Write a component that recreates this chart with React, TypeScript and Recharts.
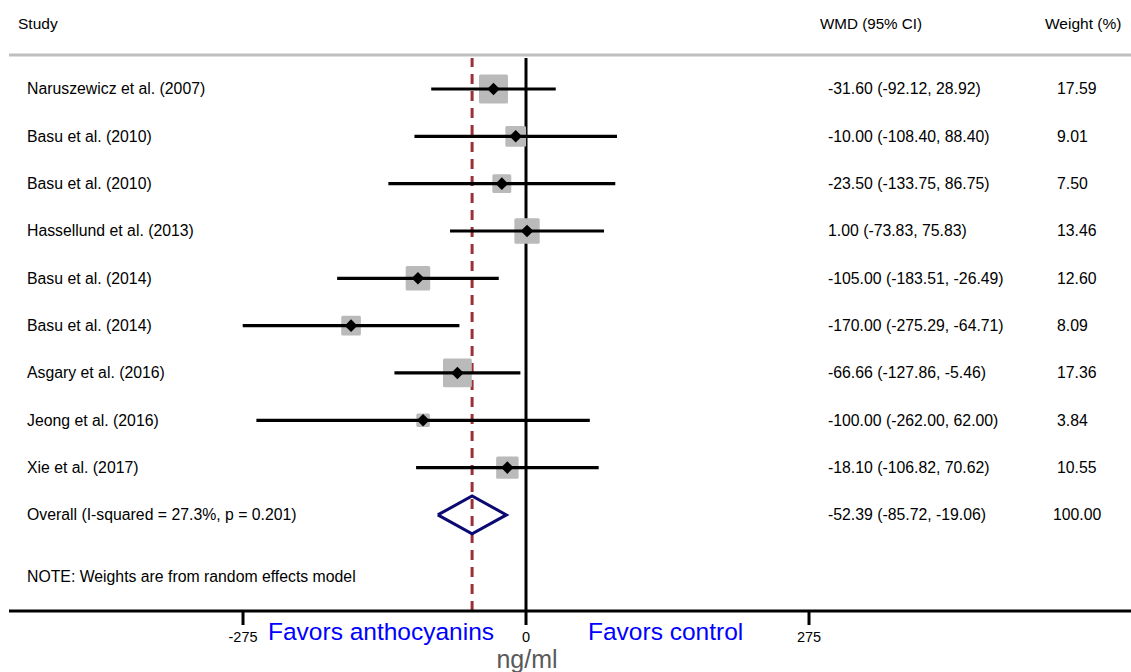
import {
  ComposedChart,
  Scatter,
  XAxis,
  YAxis,
  ReferenceLine,
  Customized,
} from "recharts";

const studies = [
  "Naruszewicz et al. (2007)",
  "Basu et al. (2010)",
  "Basu et al. (2010)",
  "Hassellund et al. (2013)",
  "Basu et al. (2014)",
  "Basu et al. (2014)",
  "Asgary et al. (2016)",
  "Jeong et al. (2016)",
  "Xie et al. (2017)",
];
const wmd = [-31.6, -10.0, -23.5, 1.0, -105.0, -170.0, -66.66, -100.0, -18.1];
const lower = [-92.12, -108.4, -133.75, -73.83, -183.51, -275.29, -127.86, -262.0, -106.82];
const upper = [28.92, 88.4, 86.75, 75.83, -26.49, -64.71, -5.46, 62.0, 70.62];
const weights = [17.59, 9.01, 7.5, 13.46, 12.6, 8.09, 17.36, 3.84, 10.55];

const overallLabel = "Overall (I-squared = 27.3%, p = 0.201)";
const overallEst = -52.39;
const overallLow = -85.72;
const overallHigh = -19.06;
const overallWeight = 100.0;

const noteText = "NOTE: Weights are from random effects model";
const xTicks = [-275, 0, 275];

const font = "'Liberation Sans', Arial, sans-serif";
const OVERALL_ROW = studies.length;
const NOTE_ROW = 10.3;

const ci = (e: number, l: number, h: number) =>
  `${e.toFixed(2)} (${l.toFixed(2)}, ${h.toFixed(2)})`;

const studyData = studies.map((s, i) => ({ x: wmd[i], y: i, w: weights[i] }));

const ciSegments = studies.map((s, i) => [
  { x: lower[i], y: i },
  { x: upper[i], y: i },
]);

const diamondData = [
  { x: overallLow, y: OVERALL_ROW },
  { x: overallEst, y: OVERALL_ROW - 0.4 },
  { x: overallHigh, y: OVERALL_ROW },
  { x: overallEst, y: OVERALL_ROW + 0.4 },
  { x: overallLow, y: OVERALL_ROW },
];

const textRows = [
  ...studies.map((s, i) => ({
    x: 0,
    y: i,
    name: s,
    est: ci(wmd[i], lower[i], upper[i]),
    w: weights[i].toFixed(2),
  })),
  {
    x: 0,
    y: OVERALL_ROW,
    name: overallLabel,
    est: ci(overallEst, overallLow, overallHigh),
    w: overallWeight.toFixed(2),
  },
  { x: 0, y: NOTE_ROW, name: noteText, est: "", w: "" },
];

const WeightBox = (props: any) => {
  const { cx, cy, payload } = props;
  const s = 6.91 * Math.sqrt(payload.w);
  return <rect x={cx - s / 2} y={cy - s / 2} width={s} height={s} rx={1.5} fill="#bababa" />;
};

const PointMark = (props: any) => {
  const { cx, cy } = props;
  const r = 6.3;
  return <path d={`M${cx - r},${cy}L${cx},${cy - r}L${cx + r},${cy}L${cx},${cy + r}Z`} fill="#000" />;
};

const Blank = () => <g />;

const RowText = (props: any) => {
  const { cy, payload } = props;
  const style = { fontFamily: font, fontSize: 15.8, fill: "#000" };
  return (
    <g>
      <text x={27} y={cy} dominantBaseline="central" {...style}>
        {payload.name}
      </text>
      <text x={828} y={cy} dominantBaseline="central" {...style}>
        {payload.est}
      </text>
      <text x={payload.y === OVERALL_ROW ? 1053 : 1057} y={cy} dominantBaseline="central" {...style}>
        {payload.w}
      </text>
    </g>
  );
};

const Headers = () => (
  <g style={{ fontFamily: font }}>
    <text x={18} y={23} fontSize={15.5} dominantBaseline="central" fill="#000">
      Study
    </text>
    <text x={820} y={23} fontSize={15.2} dominantBaseline="central" fill="#000">
      WMD (95% CI)
    </text>
    <text x={1045} y={23} fontSize={15.5} dominantBaseline="central" fill="#000">
      Weight (%)
    </text>
    <line x1={9} x2={1131} y1={55} y2={55} stroke="#bfbfbf" strokeWidth={3} />
    <text x={268} y={640} fontSize={24.5} fill="#0000ff">
      Favors anthocyanins
    </text>
    <text x={588} y={640} fontSize={24.5} fill="#0000ff">
      Favors control
    </text>
    <text x={527} y={668} fontSize={25} fill="#595959" textAnchor="middle">
      ng/ml
    </text>
  </g>
);

export default function App() {
  return (
    <div style={{ position: "absolute", left: 0, top: 0, background: "#fff" }}>
      <ComposedChart
        width={1131}
        height={672}
        margin={{ top: 58, right: 0, bottom: 0, left: 9 }}
      >
        <XAxis
          type="number"
          dataKey="x"
          domain={[-502.4, 587.9]}
          allowDataOverflow
          ticks={xTicks}
          height={61}
          axisLine={{ stroke: "#000", strokeWidth: 3 }}
          tickLine={{ stroke: "#000", strokeWidth: 3 }}
          tickSize={14}
          tickMargin={7}
          tick={{ fill: "#000", fontSize: 14.5, fontFamily: font }}
        />
        <YAxis
          type="number"
          dataKey="y"
          domain={[-0.655, 11.03]}
          reversed
          allowDataOverflow
          hide
        />
        <ReferenceLine x={0} stroke="#000" strokeWidth={3} />
        <ReferenceLine x={overallEst} stroke="#9a3038" strokeWidth={3} strokeDasharray="10 7" />
        <Scatter data={studyData} shape={<WeightBox />} isAnimationActive={false} />
        {ciSegments.map((seg, i) => (
          <Scatter
            key={i}
            data={seg}
            line={{ stroke: "#000", strokeWidth: 3.2 }}
            shape={<Blank />}
            isAnimationActive={false}
          />
        ))}
        <Scatter data={studyData} shape={<PointMark />} isAnimationActive={false} />
        <Scatter
          data={diamondData}
          line={{ stroke: "#0a0a70", strokeWidth: 3 }}
          shape={<Blank />}
          isAnimationActive={false}
        />
        <Scatter data={textRows} shape={<RowText />} isAnimationActive={false} />
        <Customized component={Headers} />
      </ComposedChart>
    </div>
  );
}
